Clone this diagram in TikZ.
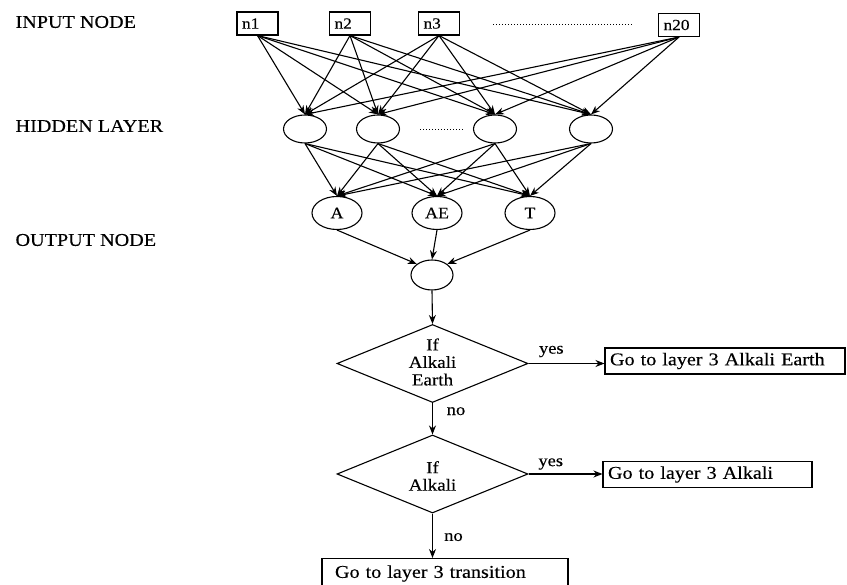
\documentclass[tikz,border=0pt]{standalone}
\usepackage{fontspec}
\setmainfont{Liberation Serif}[FakeStretch=1.12, FakeBold=0.3]
\usetikzlibrary{shapes.geometric,arrows.meta}
\begin{document}
\begin{tikzpicture}[x=1pt,y=-1pt, line width=1.1pt,
 lbl/.style={font=\fontsize{18}{20}\selectfont, anchor=west, inner sep=0},
 inbox/.style={draw, minimum height=23pt, text width=31pt, inner xsep=5pt, inner ysep=0pt, align=left, font=\fontsize{15.5}{16}\selectfont},
 hid/.style={draw, ellipse, minimum width=43pt, minimum height=28pt, inner sep=0},
 outn/.style={draw, ellipse, minimum width=50pt, minimum height=33pt, inner sep=0, font=\fontsize{16}{18}\selectfont},
 fin/.style={draw, ellipse, minimum width=42pt, minimum height=30pt, inner sep=0},
 dec/.style={draw, diamond, minimum width=191pt, minimum height=78pt, inner sep=0},
 dectext/.style={inner sep=0, align=center, font=\fontsize{17}{17.5}\selectfont},
 gobox/.style={draw, minimum height=26pt, inner ysep=0pt, inner xsep=5pt, align=left, font=\fontsize{18}{20}\selectfont},
 arr/.style={-{Stealth[length=9pt,width=7pt]}},
 edgelbl/.style={font=\fontsize{16.5}{18}\selectfont, inner sep=0},
 dotline/.style={line width=1pt, dash pattern=on 1pt off 2pt}
]
\useasboundingbox (0,0) rectangle (847,585);
\clip (0,0) rectangle (847,585);

% layer labels
\node[lbl] (l1) at (15,22) {INPUT NODE};
\node[lbl] (l2) at (15,126) {HIDDEN LAYER};
\node[lbl] (l3) at (15,240) {OUTPUT NODE};

% input nodes
\node[inbox] (n1) at (257.5,23.5) {n1};
\node[inbox] (n2) at (350,23.5) {n2};
\node[inbox] (n3) at (439,23.5) {n3};
\node[inbox] (n20) at (679,25) {n20};
\coordinate (d1) at (493,25);
\coordinate (d2) at (632,25);
\draw[dotline] (d1) -- (d2);

% hidden layer
\node[hid] (h1) at (305,129) {};
\node[hid] (h2) at (378,129) {};
\node[hid] (h3) at (495,129) {};
\node[hid] (h4) at (591,129) {};
\coordinate (e1) at (420,130);
\coordinate (e2) at (463,130);
\draw[dotline] (e1) -- (e2);

% output layer
\node[outn] (A) at (337,213) {A};
\node[outn] (AE) at (437,213) {AE};
\node[outn] (T) at (530,213) {T};
\node[fin] (F) at (432,275) {};

\foreach \i in {n1,n2,n3,n20}
  \foreach \j in {h1,h2,h3,h4}
    \draw[arr] (\i.south) -- (\j.north);
\foreach \i in {h1,h2,h3,h4}
  \foreach \j in {A,AE,T}
    \draw[arr] (\i.south) -- (\j.north);
\draw[arr] (A.south) -- (F.north west);
\draw[arr] (AE.south) -- (F.north);
\draw[arr] (T.south) -- (F.north east);

% decision flow
\node[dec] (D1) at (432.5,363.5) {};
\node[dectext] (D1t) at (432.5,362) {If\\Alkali\\Earth};
\node[dec] (D2) at (432.5,474) {};
\node[dectext] (D2t) at (432.5,476) {If\\Alkali};
\node[gobox, text width=230pt] (B1) at (725,361) {Go to layer 3 Alkali Earth};
\node[gobox, text width=199pt] (B2) at (707.5,474.5) {Go to layer 3 Alkali};
\node[gobox, text width=220pt, inner xsep=13pt, minimum height=30pt, anchor=north] (B3) at (445,558) {Go to layer 3 transition};

\draw[arr] (F.south) -- (D1.north);
\draw[arr] (D1.east) -- node[edgelbl, pos=0.3, yshift=12pt] {yes} (D1.east -| B1.west);
\draw[arr] (D1.south) -- node[edgelbl, pos=0.26, xshift=23.5pt] {no} (D2.north);
\draw[arr] (D2.east) -- node[edgelbl, pos=0.3, yshift=10pt] {yes} (D2.east -| B2.west);
\draw[arr] (D2.south) -- node[edgelbl, pos=0.53, xshift=21pt] {no} (D2.south |- B3.north);
\end{tikzpicture}
\end{document}
